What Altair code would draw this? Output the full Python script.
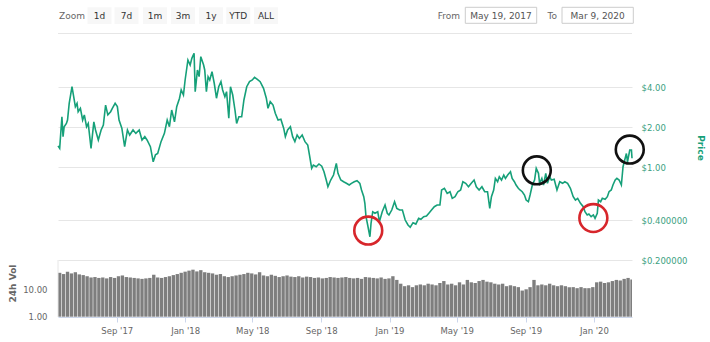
import altair as alt
import pandas as pd

FONT = "DejaVu Sans"

# ---- price series (USD, daily close samples) ----
price_dates = [
    "2017-05-19", "2017-05-22", "2017-05-26", "2017-05-28", "2017-05-30", "2017-06-03", "2017-06-05",
    "2017-06-08", "2017-06-13", "2017-06-16", "2017-06-19", "2017-06-22", "2017-06-24", "2017-06-28",
    "2017-07-02", "2017-07-05", "2017-07-09", "2017-07-12", "2017-07-17", "2017-07-22", "2017-07-25",
    "2017-07-30", "2017-08-04", "2017-08-08", "2017-08-12", "2017-08-16", "2017-08-21", "2017-08-24",
    "2017-08-29", "2017-09-02", "2017-09-05", "2017-09-10", "2017-09-15", "2017-09-20", "2017-09-24",
    "2017-09-30", "2017-10-05", "2017-10-11", "2017-10-16", "2017-10-21", "2017-10-25", "2017-10-31",
    "2017-11-05", "2017-11-09", "2017-11-13", "2017-11-19", "2017-11-25", "2017-11-30", "2017-12-04",
    "2017-12-08", "2017-12-13", "2017-12-17", "2017-12-22", "2017-12-25", "2017-12-29", "2018-01-01",
    "2018-01-06", "2018-01-10", "2018-01-13", "2018-01-17", "2018-01-19", "2018-01-23", "2018-01-26",
    "2018-01-29", "2018-02-03", "2018-02-05", "2018-02-08", "2018-02-11", "2018-02-14", "2018-02-18",
    "2018-02-22", "2018-02-26", "2018-03-02", "2018-03-06", "2018-03-09", "2018-03-13", "2018-03-16",
    "2018-03-20", "2018-03-23", "2018-03-27", "2018-03-31", "2018-04-03", "2018-04-07", "2018-04-12",
    "2018-04-16", "2018-04-21", "2018-04-26", "2018-05-01", "2018-05-05", "2018-05-10", "2018-05-15",
    "2018-05-21", "2018-05-26", "2018-05-29", "2018-06-02", "2018-06-07", "2018-06-11", "2018-06-16",
    "2018-06-21", "2018-06-26", "2018-06-29", "2018-07-03", "2018-07-08", "2018-07-12", "2018-07-16",
    "2018-07-20", "2018-07-24", "2018-07-29", "2018-08-03", "2018-08-08", "2018-08-11", "2018-08-15",
    "2018-08-18", "2018-08-23", "2018-08-28", "2018-09-02", "2018-09-06", "2018-09-10", "2018-09-13",
    "2018-09-18", "2018-09-23", "2018-09-28", "2018-10-01", "2018-10-06", "2018-10-11", "2018-10-16",
    "2018-10-21", "2018-10-25", "2018-10-30", "2018-11-04", "2018-11-09", "2018-11-12", "2018-11-16",
    "2018-11-18", "2018-11-20", "2018-11-23", "2018-11-27", "2018-11-29", "2018-12-02", "2018-12-06",
    "2018-12-11", "2018-12-14", "2018-12-19", "2018-12-24", "2018-12-28", "2018-12-31", "2019-01-05",
    "2019-01-10", "2019-01-14", "2019-01-19", "2019-01-24", "2019-01-29", "2019-02-03", "2019-02-07",
    "2019-02-12", "2019-02-17", "2019-02-22", "2019-02-26", "2019-03-03", "2019-03-08", "2019-03-13",
    "2019-03-17", "2019-03-22", "2019-03-27", "2019-04-01", "2019-04-04", "2019-04-09", "2019-04-14",
    "2019-04-19", "2019-04-23", "2019-04-28", "2019-05-03", "2019-05-08", "2019-05-12", "2019-05-17",
    "2019-05-22", "2019-05-27", "2019-06-01", "2019-06-05", "2019-06-10", "2019-06-15", "2019-06-20",
    "2019-06-25", "2019-06-29", "2019-07-02", "2019-07-06", "2019-07-09", "2019-07-13", "2019-07-16",
    "2019-07-20", "2019-07-24", "2019-07-27", "2019-07-31", "2019-08-05", "2019-08-08", "2019-08-12",
    "2019-08-15", "2019-08-19", "2019-08-22", "2019-08-26", "2019-08-30", "2019-09-02", "2019-09-06",
    "2019-09-09", "2019-09-13", "2019-09-17", "2019-09-20", "2019-09-24", "2019-09-26", "2019-09-30",
    "2019-10-03", "2019-10-07", "2019-10-10", "2019-10-14", "2019-10-17", "2019-10-22", "2019-10-27",
    "2019-11-01", "2019-11-06", "2019-11-10", "2019-11-15", "2019-11-20", "2019-11-25", "2019-11-29",
    "2019-12-03", "2019-12-08", "2019-12-13", "2019-12-16", "2019-12-20", "2019-12-23", "2019-12-27",
    "2019-12-31", "2020-01-03", "2020-01-07", "2020-01-09", "2020-01-13", "2020-01-16", "2020-01-21",
    "2020-01-25", "2020-01-28", "2020-02-01", "2020-02-04", "2020-02-08", "2020-02-11", "2020-02-15",
    "2020-02-19", "2020-02-22", "2020-02-25", "2020-02-28", "2020-03-01", "2020-03-05", "2020-03-08",
    "2020-03-09",
]
price_values = [
    1.45, 1.39, 2.40, 1.70, 2.02, 2.14, 2.27,
    3.03, 4.04, 3.40, 2.86, 3.03, 2.62, 2.78,
    2.27, 2.48, 2.02, 2.14, 1.39, 2.20, 1.91,
    1.605, 1.91, 2.08, 2.94, 2.48, 2.62, 2.78,
    3.03, 2.86, 2.27, 1.97, 1.43, 1.91, 1.75,
    1.91, 1.80, 1.91, 1.605, 1.70, 1.605, 1.43,
    1.10, 1.24, 1.27, 1.56, 1.80, 2.27, 2.02,
    2.70, 2.20, 2.86, 3.31, 3.82, 3.50, 4.54,
    6.42, 5.89, 6.61, 7.21, 3.71, 5.40, 4.81,
    6.80, 5.89, 5.40, 3.71, 4.81, 4.54, 5.24,
    4.29, 3.31, 4.04, 4.41, 3.82, 3.40, 3.71,
    2.34, 4.04, 3.50, 2.70, 2.14, 2.40, 2.40,
    3.21, 4.04, 4.41, 4.54, 4.76, 4.59, 4.41,
    3.93, 3.31, 2.78, 3.12, 2.94, 2.55, 2.27,
    2.30, 1.97, 1.70, 1.91, 2.02, 1.70, 1.56,
    1.75, 1.65, 1.75, 1.56, 1.47, 1.24, 0.983,
    1.04, 1.01, 1.06, 1.02, 0.927, 0.802, 0.714,
    0.802, 0.875, 1.07, 0.901, 0.802, 0.779, 0.758,
    0.736, 0.758, 0.779, 0.793, 0.758, 0.675, 0.601,
    0.536, 0.425, 0.368, 0.300, 0.379, 0.463, 0.451,
    0.463, 0.390, 0.463, 0.520, 0.451, 0.438, 0.477,
    0.551, 0.491, 0.477, 0.477, 0.401, 0.368, 0.354,
    0.383, 0.374, 0.413, 0.406, 0.425, 0.430, 0.455,
    0.477, 0.505, 0.520, 0.520, 0.675, 0.695, 0.637,
    0.655, 0.584, 0.601, 0.655, 0.675, 0.779, 0.758,
    0.714, 0.758, 0.802, 0.714, 0.675, 0.714, 0.655,
    0.655, 0.491, 0.601, 0.675, 0.826, 0.779, 0.850,
    0.802, 0.875, 0.826, 0.875, 0.927, 0.826, 0.779,
    0.736, 0.695, 0.675, 0.655, 0.619, 0.567, 0.551,
    0.619, 0.736, 0.802, 0.983, 0.901, 0.758, 0.826,
    0.736, 0.901, 0.758, 0.850, 0.802, 0.812, 0.675,
    0.779, 0.758, 0.779, 0.758, 0.695, 0.601, 0.567,
    0.584, 0.536, 0.505, 0.463, 0.438, 0.445, 0.425,
    0.438, 0.413, 0.451, 0.567, 0.551, 0.584, 0.574,
    0.601, 0.655, 0.675, 0.736, 0.802, 0.826, 0.802,
    0.736, 1.01, 1.135, 1.27, 1.10, 1.35, 1.35,
    1.17,
]

# ---- weekly 24h volume (one bar per week from the first date) ----
volume_start = "2017-05-19"
volume_values = [
    40, 36, 44, 38, 42, 35, 33, 30, 27, 28, 26, 27, 25, 28, 26, 30,
    32, 28, 27, 26, 25, 24, 25, 26, 34, 27, 26, 28, 30, 33, 36, 40,
    44, 48, 52, 45, 50, 42, 40, 38, 34, 36, 30, 28, 30, 32, 34, 36,
    40, 38, 35, 42, 32, 30, 34, 31, 28, 30, 32, 29, 28, 30, 27, 29,
    28, 26, 27, 25, 26, 28, 27, 26, 27, 28, 26, 25, 26, 24, 28, 27,
    26, 25, 27, 24, 25, 30, 22, 16, 13, 14, 12, 14, 15, 14, 16, 15,
    14, 17, 20, 15, 16, 14, 18, 15, 22, 18, 17, 20, 22, 19, 18, 16,
    15, 16, 13, 14, 13, 12, 9, 10, 12, 22, 14, 15, 14, 16, 14, 13,
    14, 13, 12, 12, 11, 12, 11, 11, 12, 18, 19, 17, 18, 20, 22, 21,
    24, 26, 23,
]

# ---- highlighted points ----
marker_dates = ["2018-11-24", "2019-09-21", "2019-12-31", "2020-03-05"]
marker_prices = [0.334, 0.949, 0.415, 1.359]
marker_colors = ["#d7262b", "#111111", "#d7262b", "#111111"]

price_ticks = [0.2, 0.4, 1, 2, 4]
volume_ticks = [1, 10]
date_ticks = [(2017, 9), (2018, 1), (2018, 5), (2018, 9), (2019, 1), (2019, 5), (2019, 9), (2020, 1)]
zoom_buttons = ["1d", "7d", "1m", "3m", "1y", "YTD", "ALL"]
range_from = "May 19, 2017"
range_to = "Mar 9, 2020"

# ---- tables ----
price_df = pd.DataFrame({"date": price_dates, "price": price_values})
week_starts = pd.date_range(volume_start, periods=len(volume_values), freq="7D")
volume_df = pd.DataFrame({
    "date": week_starts.strftime("%Y-%m-%d"),
    "end": (week_starts + pd.Timedelta(days=6)).strftime("%Y-%m-%d"),
    "vol": volume_values,
})
marker_df = pd.DataFrame({"date": marker_dates, "price": marker_prices, "col": marker_colors})

W, H = 574, 283
GREEN = "#16a079"

x_scale = alt.Scale(
    type="utc",
    domain=[alt.DateTime(year=2017, month=5, date=19, utc=True),
            alt.DateTime(year=2020, month=3, date=9, utc=True)],
)
x_axis = alt.Axis(
    values=[alt.DateTime(year=y, month=m, date=1, utc=True) for y, m in date_ticks],
    labelExpr="utcFormat(datum.value, \"%b '%y\")", title=None, grid=False,
    labelFont=FONT, labelFontSize=8.5, labelColor="#666666", labelPadding=4,
    tickColor="#ccd6eb", tickSize=5, domainColor="#ccd6eb",
)
price_scale = alt.Scale(type="log", domain=[0.2, 4], range=[226.2, 53.3], nice=False)
volume_scale = alt.Scale(type="log", domain=[1, 10], range=[282.7, 255.3], nice=False)

volume = alt.Chart(volume_df).mark_bar(color="#7e7e7e", clip=True).encode(
    x=alt.X("date:T", scale=x_scale, axis=x_axis),
    x2="end:T",
    y=alt.Y("vol:Q", scale=volume_scale, axis=alt.Axis(
        orient="left", values=volume_ticks, format=".2f", grid=False, ticks=False, domain=False,
        labelFont=FONT, labelFontSize=8.5, labelColor="#666666", labelPadding=11,
        title="24h Vol", titleFont=FONT, titleFontSize=9, titleFontWeight="bold", titleColor="#666666",
        titleAngle=-90, titleX=-46, titleY=249, titleAlign="center", titleBaseline="middle")),
    y2=alt.datum(1),
)

price_line = alt.Chart(price_df).mark_line(color=GREEN, strokeWidth=1.6).encode(
    x=alt.X("date:T", scale=x_scale, axis=x_axis),
    y=alt.Y("price:Q", scale=price_scale, axis=alt.Axis(
        orient="right", values=price_ticks,
        labelExpr="datum.value >= 1 ? '$' + format(datum.value, '.2f') : '$' + format(datum.value, '.6f')",
        grid=True, gridColor="#e6e6e6", ticks=False, domain=False,
        labelFont=FONT, labelFontSize=8.5, labelColor="#3c9f7f", labelPadding=9,
        title="Price", titleFont=FONT, titleFontSize=9, titleFontWeight="bold", titleColor=GREEN,
        titleAngle=90, titleX=68, titleY=113.5, titleAlign="center", titleBaseline="middle")),
)

markers = alt.Chart(marker_df).mark_point(
    shape="circle", filled=False, size=780, strokeWidth=2.6, opacity=1
).encode(
    x=alt.X("date:T", scale=x_scale, axis=x_axis),
    y=alt.Y("price:Q", scale=price_scale, axis=None),
    color=alt.Color("col:N", scale=None),
)

one = pd.DataFrame({"k": [0]})


def text_at(t, x, y, align="left", color="#666666", size=9):
    return alt.Chart(pd.DataFrame({"t": [t]})).mark_text(
        align=align, baseline="middle", font=FONT, fontSize=size, color=color
    ).encode(x=alt.value(x), y=alt.value(y), text="t:N")


def box(x0, x1, y0, y1, fill, stroke=None):
    kw = {"fill": fill}
    if stroke:
        kw.update(stroke=stroke, strokeWidth=1)
    return alt.Chart(one).mark_rect(**kw).encode(
        x=alt.value(x0), x2=alt.value(x1), y=alt.value(y0), y2=alt.value(y1))


# range selector strip above the plot
chrome = [
    alt.Chart(one).mark_rule(color="#e6e6e6").encode(x=alt.value(0), x2=alt.value(W), y=alt.value(-0.5)),
    alt.Chart(one).mark_rule(color="#e6e6e6").encode(x=alt.value(0), y=alt.value(226), y2=alt.value(H)),
    text_at("Zoom", 1, -18.5),
]
button_centers = [41.5, 68.5, 97, 125, 153, 180.3, 208]
for label, cx in zip(zoom_buttons, button_centers):
    chrome.append(box(cx - 12, cx + 12, -26.7, -10, "#f7f7f7"))
    chrome.append(text_at(label, cx, -18.3, align="center", color="#333333"))
chrome += [
    text_at("From", 402, -18.5, align="right"),
    box(407.3, 478.7, -26.7, -10.7, "#ffffff", "#cccccc"),
    text_at(range_from, 443, -18.5, align="center", color="#555555"),
    text_at("To", 499, -18.5, align="right"),
    box(504, 575.3, -26.7, -10.7, "#ffffff", "#cccccc"),
    text_at(range_to, 539.7, -18.5, align="center", color="#555555"),
]

chart = alt.layer(volume, price_line, markers, *chrome).resolve_scale(y="independent").properties(
    width=W, height=H,
    background="#ffffff",
    padding={"left": 58, "top": 34, "right": 710 - 58 - W, "bottom": 342 - 34 - H},
    autosize=alt.AutoSizeParams(type="none"),
).configure_view(stroke=None)

chart.save("out.html", embed_options={"renderer": "svg", "actions": False})
